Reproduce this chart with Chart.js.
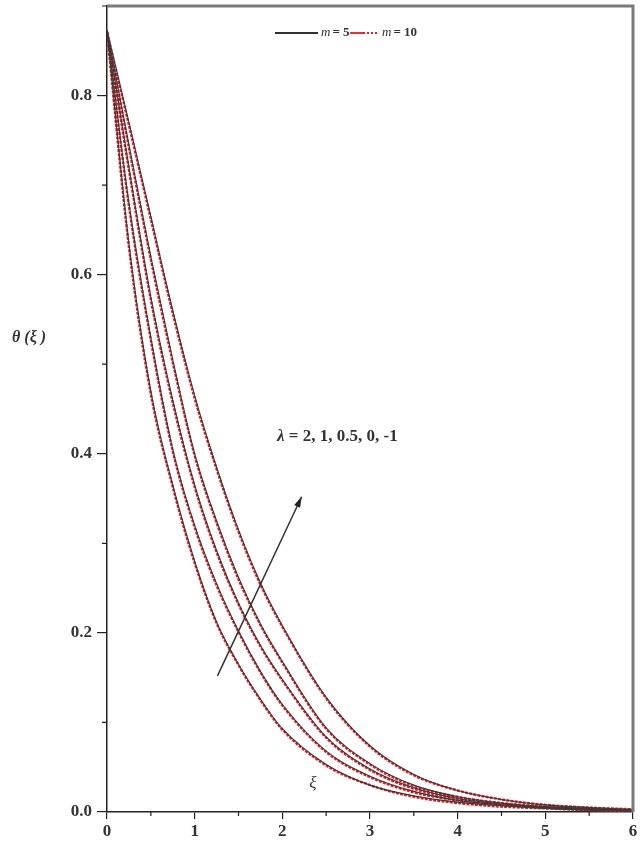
<!DOCTYPE html>
<html lang="en">
<head>
  <meta charset="UTF-8">
  <title>theta(xi) profiles</title>
  <style>
    body { margin: 0; background: #fff; }
    #wrap { width: 643px; height: 843px; position: relative; }
  </style>
  <script src="https://cdn.jsdelivr.net/npm/chart.js"></script>
</head>
<body>
  <div id="wrap"><canvas id="chart"></canvas></div>
  <script>
    const xi = [0, 0.25, 0.5, 0.75, 1, 1.25, 1.5, 1.75, 2, 2.5, 3, 3.5, 4, 4.5, 5, 5.5, 6];

    // lambda values, in order from the lowest curve to the highest
    const lambdas = ['2', '1', '0.5', '0', '-1'];

    // m = 5 (solid black)
    const m5_l2  = [0.873, 0.635, 0.470, 0.365, 0.280, 0.212, 0.165, 0.126, 0.093, 0.053, 0.030, 0.018, 0.011, 0.007, 0.004, 0.002, 0.001];
    const m5_l1  = [0.873, 0.680, 0.530, 0.405, 0.320, 0.255, 0.202, 0.157, 0.120, 0.068, 0.040, 0.023, 0.013, 0.008, 0.005, 0.003, 0.002];
    const m5_l05 = [0.873, 0.720, 0.575, 0.460, 0.365, 0.292, 0.233, 0.186, 0.148, 0.084, 0.048, 0.027, 0.015, 0.009, 0.005, 0.003, 0.002];
    const m5_l0  = [0.873, 0.745, 0.620, 0.505, 0.400, 0.325, 0.262, 0.210, 0.168, 0.094, 0.054, 0.030, 0.017, 0.010, 0.006, 0.004, 0.002];
    const m5_lm1 = [0.873, 0.770, 0.665, 0.560, 0.465, 0.385, 0.315, 0.256, 0.208, 0.128, 0.074, 0.042, 0.024, 0.014, 0.008, 0.005, 0.003];

    // m = 10 (red dotted), almost on top of m = 5
    const m10_l2  = [0.871, 0.631, 0.467, 0.363, 0.278, 0.211, 0.164, 0.125, 0.092, 0.052, 0.030, 0.017, 0.010, 0.006, 0.004, 0.002, 0.001];
    const m10_l1  = [0.871, 0.677, 0.527, 0.403, 0.318, 0.253, 0.201, 0.156, 0.119, 0.067, 0.039, 0.022, 0.013, 0.008, 0.005, 0.003, 0.002];
    const m10_l05 = [0.871, 0.717, 0.572, 0.457, 0.363, 0.290, 0.232, 0.185, 0.147, 0.083, 0.047, 0.026, 0.015, 0.009, 0.005, 0.003, 0.002];
    const m10_l0  = [0.871, 0.742, 0.617, 0.502, 0.398, 0.323, 0.260, 0.209, 0.167, 0.093, 0.053, 0.029, 0.017, 0.010, 0.006, 0.004, 0.002];
    const m10_lm1 = [0.871, 0.767, 0.662, 0.557, 0.462, 0.383, 0.313, 0.254, 0.207, 0.127, 0.073, 0.041, 0.024, 0.014, 0.008, 0.005, 0.003];

    const xTicks = [0, 1, 2, 3, 4, 5, 6];
    const yTicks = [0, 0.2, 0.4, 0.6, 0.8];

    const m5 = [m5_l2, m5_l1, m5_l05, m5_l0, m5_lm1];
    const m10 = [m10_l2, m10_l1, m10_l05, m10_l0, m10_lm1];

    const toPts = arr => arr.map((v, i) => ({ x: xi[i], y: v }));

    const datasets = [];
    lambdas.forEach((lam, i) => {
      datasets.push({
        label: 'm = 5, λ = ' + lam,
        data: toPts(m5[i]),
        borderColor: '#3a3a3a',
        borderWidth: 1.1,
        pointRadius: 0,
        cubicInterpolationMode: 'monotone'
      });
    });
    lambdas.forEach((lam, i) => {
      datasets.push({
        label: 'm = 10, λ = ' + lam,
        data: toPts(m10[i]),
        borderColor: '#e01c24',
        borderWidth: 2.4,
        borderDash: [3, 1.2],
        pointRadius: 0,
        cubicInterpolationMode: 'monotone'
      });
    });

    const serif = '"Liberation Serif", "Times New Roman", serif';

    // frame, minor ticks, legend and text notes
    const extras = {
      id: 'extras',
      afterDraw(chart) {
        const { ctx, chartArea: a, scales: { x, y } } = chart;
        ctx.save();

        // grey top and right frame
        ctx.strokeStyle = '#7a7a7a';
        ctx.lineWidth = 3;
        ctx.beginPath();
        ctx.moveTo(a.left, a.top);
        ctx.lineTo(a.right, a.top);
        ctx.lineTo(a.right, a.bottom);
        ctx.stroke();

        // minor ticks
        ctx.strokeStyle = '#222';
        ctx.lineWidth = 1.2;
        ctx.beginPath();
        for (let v = 0.1; v < 0.9; v += 0.2) {
          const py = y.getPixelForValue(v);
          ctx.moveTo(a.left - 5, py);
          ctx.lineTo(a.left, py);
        }
        for (let v = 0.5; v < 6; v += 1) {
          const px = x.getPixelForValue(v);
          ctx.moveTo(px, a.bottom);
          ctx.lineTo(px, a.bottom + 4);
        }
        ctx.stroke();

        // legend
        const ly = 33;
        ctx.lineWidth = 1.8;
        ctx.strokeStyle = '#333';
        ctx.setLineDash([]);
        ctx.beginPath(); ctx.moveTo(275, ly); ctx.lineTo(318, ly); ctx.stroke();
        ctx.strokeStyle = '#e01c24';
        ctx.beginPath(); ctx.moveTo(350, ly); ctx.lineTo(363, ly); ctx.stroke();
        ctx.setLineDash([2, 2]);
        ctx.beginPath(); ctx.moveTo(363, ly); ctx.lineTo(379, ly); ctx.stroke();
        ctx.setLineDash([]);

        ctx.fillStyle = '#333';
        ctx.textBaseline = 'middle';
        const mLabel = (px, rest) => {
          ctx.font = 'italic 13px ' + serif;
          ctx.fillText('m', px, ly);
          const w = ctx.measureText('m').width;
          ctx.font = 'bold 13px ' + serif;
          ctx.fillText(rest, px + w + 2, ly);
        };
        mLabel(321, '= 5');
        mLabel(382, '= 10');

        // lambda note and arrow
        ctx.font = 'italic bold 17px ' + serif;
        ctx.fillText('λ', 277, 437);
        const lw = ctx.measureText('λ').width;
        ctx.font = 'bold 17px ' + serif;
        ctx.fillText(' = 2, 1, 0.5, 0, -1', 277 + lw, 437);

        const x0 = x.getPixelForValue(1.26), y0 = y.getPixelForValue(0.152);
        const x1 = x.getPixelForValue(2.22), y1 = y.getPixelForValue(0.352);
        ctx.strokeStyle = '#333';
        ctx.lineWidth = 1.5;
        ctx.beginPath(); ctx.moveTo(x0, y0); ctx.lineTo(x1, y1); ctx.stroke();
        const ang = Math.atan2(y1 - y0, x1 - x0);
        ctx.fillStyle = '#222';
        ctx.beginPath();
        ctx.moveTo(x1, y1);
        ctx.lineTo(x1 - 11 * Math.cos(ang - 0.3), y1 - 11 * Math.sin(ang - 0.3));
        ctx.lineTo(x1 - 11 * Math.cos(ang + 0.3), y1 - 11 * Math.sin(ang + 0.3));
        ctx.closePath();
        ctx.fill();

        // axis titles
        ctx.fillStyle = '#333';
        ctx.font = 'italic 17px ' + serif;
        ctx.textAlign = 'center';
        ctx.fillText('ξ', 313, 784);
        ctx.font = 'italic bold 16px ' + serif;
        ctx.textAlign = 'left';
        ctx.fillText('θ (ξ )', 12, 338);

        ctx.restore();
      }
    };

    new Chart(document.getElementById('chart'), {
      type: 'line',
      data: { datasets },
      options: {
        responsive: true,
        maintainAspectRatio: false,
        animation: false,
        layout: { padding: { top: 6, right: 10, left: 0, bottom: 0 } },
        plugins: { legend: { display: false }, tooltip: { enabled: false } },
        scales: {
          x: {
            type: 'linear',
            min: 0,
            max: 6,
            afterBuildTicks: s => { s.ticks = xTicks.map(v => ({ value: v })); },
            afterFit: s => { s.height = 31; s.paddingLeft = 0; s.paddingRight = 0; },
            grid: { drawOnChartArea: false, drawTicks: true, tickLength: 7, color: '#222', lineWidth: 1.2 },
            border: { display: true, color: '#222', width: 1.5 },
            ticks: { color: '#333', padding: 2, font: { family: serif, size: 17, weight: 'bold' } }
          },
          y: {
            type: 'linear',
            min: 0,
            max: 0.9,
            afterBuildTicks: s => { s.ticks = yTicks.map(v => ({ value: v })); },
            afterFit: s => { s.width = 107; s.paddingTop = 0; s.paddingBottom = 0; },
            grid: { drawOnChartArea: false, drawTicks: true, tickLength: 10, color: '#222', lineWidth: 1.2 },
            border: { display: true, color: '#222', width: 1.5 },
            ticks: { color: '#333', padding: 5, font: { family: serif, size: 17, weight: 'bold' },
                     callback: v => v.toFixed(1) }
          }
        }
      },
      plugins: [extras]
    });
  </script>
</body>
</html>
